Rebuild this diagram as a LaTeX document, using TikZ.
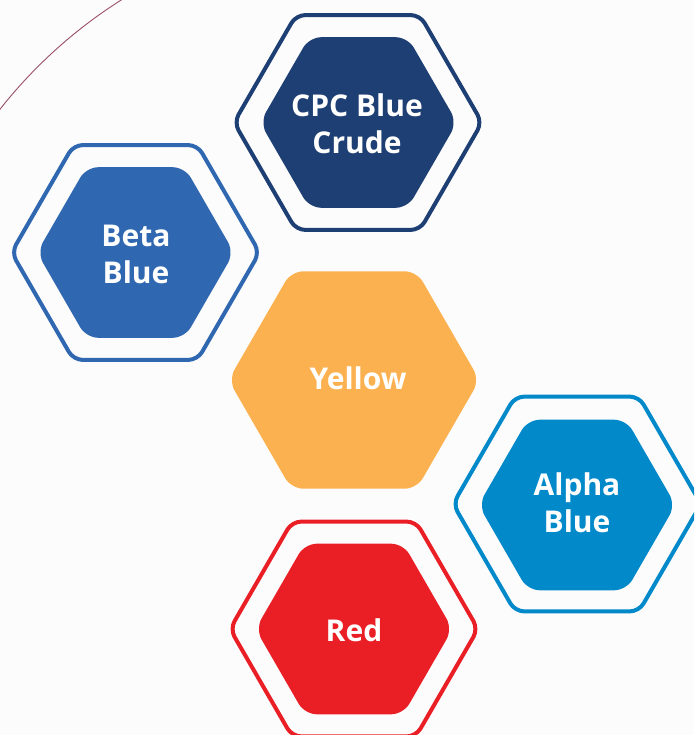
\documentclass[tikz,border=0pt]{standalone}
\usepackage{fontspec}
\setmainfont{Open Sans}
\begin{document}
\begin{tikzpicture}[x=1pt,y=-1pt,
  hexfill/.style={rounded corners=12pt},
  hexring/.style={line width=4pt,rounded corners=9pt},
  label/.style={text=white,font=\fontsize{30}{37}\selectfont\bfseries,align=center,inner sep=0pt}]
\definecolor{bgc}{HTML}{FCFCFD}
\definecolor{cpc}{HTML}{1D3F73}
\definecolor{beta}{HTML}{2F68B0}
\definecolor{yel}{HTML}{FCB150}
\definecolor{alp}{HTML}{0189CA}
\definecolor{red1}{HTML}{EA1F26}
\definecolor{arcc}{HTML}{9B4F6A}
\newcommand\hexagonpath[3]{(#1-#3,#2) -- (#1-#3/2,#2-0.8660*#3) -- (#1+#3/2,#2-0.8660*#3) -- (#1+#3,#2) -- (#1+#3/2,#2+0.8660*#3) -- (#1-#3/2,#2+0.8660*#3) -- cycle}
\fill[bgc] (0,0) rectangle (694,735);
\useasboundingbox (0,0) rectangle (694,735);
\begin{scope}
\clip (0,0) rectangle (694,735);
% arc
\draw[arcc,line width=0.9pt] (380,409) ++(-118:484) arc[start angle=-118,end angle=-146,radius=484];
% CPC
\draw[cpc,hexring] \hexagonpath{358}{122.5}{124};
\fill[cpc,hexfill] \hexagonpath{358.5}{122.5}{98.5};
% Beta
\draw[beta,hexring] \hexagonpath{135.5}{252.5}{124};
\fill[beta,hexfill] \hexagonpath{135.5}{252.5}{98.5};
% Yellow
\fill[yel,hexfill] \hexagonpath{354}{380}{125.5};
% Alpha
\draw[alp,hexring] \hexagonpath{577}{504}{124};
\fill[alp,hexfill] \hexagonpath{577}{505}{98.5};
% Red
\draw[red1,hexring] \hexagonpath{354}{629}{124};
\fill[red1,hexfill] \hexagonpath{354}{629}{98.5};
\end{scope}
\node[label] (cpc) at (357,124) {CPC Blue\\Crude};
\node[label] (beta) at (136,254) {Beta\\Blue};
\node[label] (yellow) at (358,378) {Yellow};
\node[label] (alpha) at (577,503) {Alpha\\Blue};
\node[label] (red) at (354,630) {Red};
\end{tikzpicture}
\end{document}
